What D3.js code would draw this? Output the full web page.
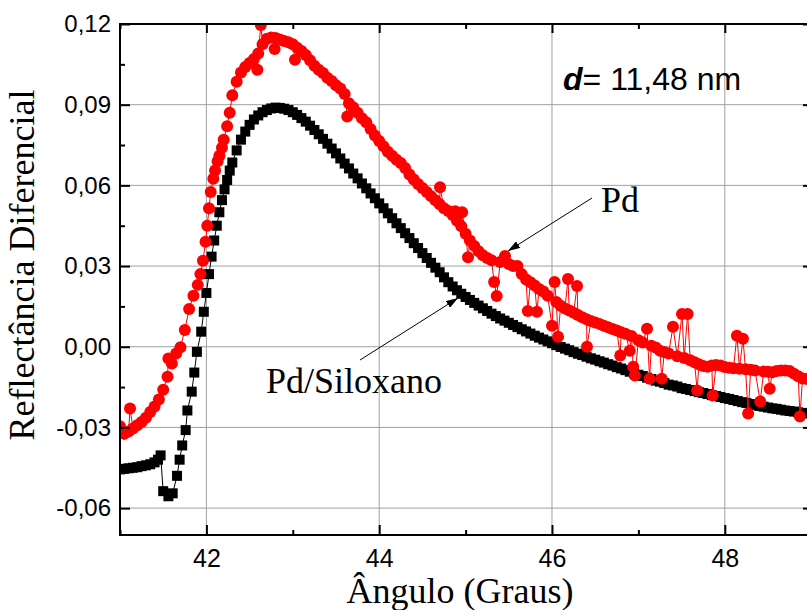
<!DOCTYPE html>
<html>
<head>
<meta charset="utf-8">
<script src="https://cdn.jsdelivr.net/npm/d3@7"></script>
<style>
  body { margin: 0; background: #fff; }
</style>
</head>
<body>
<div id="chart"></div>
<script>
// Pd/Siloxano (quadrados pretos): [ângulo, reflectância]
const pdSiloxano = [
  [41.00,-0.0456],[41.05,-0.0454],[41.10,-0.0452],[41.15,-0.0450],[41.20,-0.0448],[41.25,-0.0444],
  [41.30,-0.0441],[41.35,-0.0437],[41.40,-0.0430],[41.44,-0.0420],[41.47,-0.0404],[41.50,-0.0537],
  [41.56,-0.0556],[41.61,-0.0545],[41.66,-0.0480],[41.69,-0.0420],[41.72,-0.0367],[41.76,-0.0310],
  [41.78,-0.0237],[41.83,-0.0167],[41.86,-0.0096],[41.89,-0.0019],[41.94,0.0056],[41.97,0.0130],
  [42.00,0.0200],[42.03,0.0270],[42.06,0.0335],[42.09,0.0395],[42.12,0.0450],[42.15,0.0500],
  [42.18,0.0545],[42.21,0.0585],[42.24,0.0620],[42.27,0.0655],[42.30,0.0685],[42.35,0.0730],
  [42.40,0.0770],[42.45,0.0800],[42.50,0.0825],[42.55,0.0845],[42.60,0.0860],[42.65,0.0872],
  [42.70,0.0880],[42.75,0.0886],[42.80,0.0889],[42.85,0.0888],[42.90,0.0885],[42.95,0.0880],
  [43.00,0.0872],[43.05,0.0862],[43.10,0.0850],[43.15,0.0837],[43.20,0.0822],[43.25,0.0806],
  [43.30,0.0790],[43.35,0.0773],[43.40,0.0755],[43.45,0.0737],[43.50,0.0719],[43.55,0.0700],
  [43.60,0.0681],[43.65,0.0663],[43.70,0.0644],[43.75,0.0626],[43.80,0.0607],[43.85,0.0589],
  [43.90,0.0570],[43.95,0.0552],[44.00,0.0533],[44.05,0.0515],[44.10,0.0496],[44.15,0.0478],
  [44.20,0.0459],[44.25,0.0441],[44.30,0.0422],[44.35,0.0404],[44.40,0.0385],[44.45,0.0367],
  [44.50,0.0348],[44.55,0.0330],[44.60,0.0312],[44.65,0.0294],[44.70,0.0277],[44.75,0.0258],
  [44.80,0.0240],[44.85,0.0224],[44.90,0.0210],[44.95,0.0197],[45.00,0.0185],[45.05,0.0174],
  [45.10,0.0163],[45.15,0.0153],[45.20,0.0143],[45.25,0.0133],[45.30,0.0123],[45.35,0.0114],
  [45.40,0.0105],[45.45,0.0097],[45.50,0.0089],[45.55,0.0081],[45.60,0.0073],[45.65,0.0065],
  [45.70,0.0057],[45.75,0.0049],[45.80,0.0041],[45.85,0.0034],[45.90,0.0027],[45.95,0.0020],
  [46.00,0.0013],[46.05,0.0006],[46.10,-0.0001],[46.15,-0.0007],[46.20,-0.0013],[46.25,-0.0020],
  [46.30,-0.0026],[46.35,-0.0031],[46.40,-0.0037],[46.45,-0.0043],[46.50,-0.0048],[46.55,-0.0054],
  [46.60,-0.0059],[46.65,-0.0065],[46.70,-0.0070],[46.75,-0.0076],[46.80,-0.0081],[46.85,-0.0087],
  [46.90,-0.0093],[46.95,-0.0098],[47.00,-0.0104],[47.05,-0.0109],[47.10,-0.0115],[47.15,-0.0120],
  [47.20,-0.0126],[47.25,-0.0130],[47.30,-0.0135],[47.35,-0.0141],[47.40,-0.0144],[47.45,-0.0148],
  [47.50,-0.0154],[47.55,-0.0157],[47.60,-0.0161],[47.65,-0.0165],[47.70,-0.0169],[47.75,-0.0172],
  [47.80,-0.0176],[47.85,-0.0180],[47.90,-0.0183],[47.95,-0.0187],[48.00,-0.0191],[48.05,-0.0194],
  [48.10,-0.0198],[48.15,-0.0202],[48.20,-0.0206],[48.25,-0.0209],[48.30,-0.0213],[48.35,-0.0217],
  [48.40,-0.0220],[48.45,-0.0223],[48.50,-0.0226],[48.55,-0.0229],[48.60,-0.0231],[48.65,-0.0234],
  [48.70,-0.0237],[48.75,-0.0239],[48.80,-0.0241],[48.85,-0.0244],[48.90,-0.0246],[48.95,-0.0248]
];

// Pd (círculos vermelhos): [ângulo, reflectância], com os pontos ruidosos
const pd = [
  [41.00,-0.0296],[41.05,-0.0324],[41.10,-0.0315],[41.116,-0.0230],[41.15,-0.0304],[41.20,-0.0292],
  [41.25,-0.0280],[41.30,-0.0264],[41.35,-0.0243],[41.40,-0.0222],[41.45,-0.0196],[41.50,-0.0160],
  [41.55,-0.0112],[41.56,-0.0044],[41.60,-0.0062],[41.65,-0.0025],[41.70,-0.0002],[41.75,0.0062],
  [41.80,0.0140],[41.85,0.0190],[41.90,0.0230],[41.93,0.0270],[41.96,0.0320],[41.99,0.0390],
  [42.01,0.0450],[42.03,0.0515],[42.05,0.0575],[42.08,0.0625],[42.10,0.0655],[42.13,0.0690],
  [42.15,0.0710],[42.18,0.0740],[42.20,0.0770],[42.24,0.0820],[42.27,0.0870],[42.30,0.0935],
  [42.35,0.0985],[42.40,0.1020],[42.45,0.1040],[42.50,0.1055],[42.55,0.1070],[42.59,0.1030],
  [42.60,0.1090],[42.63,0.1196],[42.65,0.1125],[42.70,0.1145],[42.75,0.1150],[42.79,0.1107],
  [42.80,0.1148],[42.85,0.1142],[42.90,0.1137],[42.95,0.1132],[43.00,0.1125],[43.025,0.1067],
  [43.05,0.1112],[43.10,0.1100],[43.15,0.1085],[43.20,0.1065],[43.25,0.1045],[43.30,0.1030],
  [43.35,0.1018],[43.40,0.1000],[43.45,0.0988],[43.50,0.0972],[43.55,0.0960],[43.60,0.0940],
  [43.63,0.0856],[43.65,0.0905],[43.70,0.0890],[43.75,0.0870],[43.80,0.0850],[43.85,0.0835],
  [43.90,0.0810],[43.95,0.0785],[44.00,0.0765],[44.05,0.0745],[44.10,0.0725],[44.15,0.0710],
  [44.20,0.0695],[44.25,0.0683],[44.30,0.0665],[44.35,0.0640],[44.40,0.0622],[44.45,0.0605],
  [44.50,0.0590],[44.55,0.0575],[44.60,0.0560],[44.65,0.0545],[44.70,0.0530],[44.704,0.0593],
  [44.75,0.0515],[44.80,0.0505],[44.85,0.0490],[44.88,0.0504],[44.90,0.0468],[44.95,0.0448],
  [44.96,0.0500],[45.00,0.0420],[45.028,0.0333],[45.05,0.0395],[45.10,0.0375],[45.15,0.0355],
  [45.20,0.0340],[45.25,0.0330],[45.30,0.0322],[45.33,0.0241],[45.36,0.0189],[45.40,0.0315],
  [45.456,0.0337],[45.50,0.0308],[45.55,0.0300],[45.60,0.0300],[45.65,0.0270],[45.70,0.0250],
  [45.72,0.0133],[45.75,0.0240],[45.80,0.0228],[45.826,0.0130],[45.85,0.0215],[45.90,0.0205],
  [45.95,0.0190],[46.00,0.0078],[46.03,0.0241],[46.05,0.0166],[46.07,0.0037],[46.10,0.0152],
  [46.15,0.0142],[46.185,0.0252],[46.20,0.0135],[46.25,0.0126],[46.29,0.0226],[46.30,0.0118],
  [46.35,0.0110],[46.40,0.0102],[46.405,0.0000],[46.45,0.0096],[46.50,0.0090],[46.55,0.0085],
  [46.60,0.0078],[46.65,0.0072],[46.70,0.0066],[46.75,0.0060],[46.79,-0.0033],[46.80,0.0054],
  [46.85,0.0048],[46.90,-0.0015],[46.92,0.0040],[46.94,-0.0074],[46.96,-0.0107],[47.00,0.0024],
  [47.05,0.0016],[47.10,0.0067],[47.13,-0.0119],[47.15,0.0004],[47.20,-0.0003],[47.25,-0.0015],
  [47.27,-0.0119],[47.30,-0.0020],[47.35,-0.0025],[47.40,0.0074],[47.45,-0.0035],[47.505,0.0122],
  [47.53,-0.0042],[47.57,0.0122],[47.60,-0.0050],[47.65,-0.0058],[47.68,-0.0163],[47.70,-0.0065],
  [47.75,-0.0072],[47.80,-0.0074],[47.85,-0.0070],[47.86,-0.0181],[47.90,-0.0068],[47.95,-0.0070],
  [48.00,-0.0075],[48.05,-0.0078],[48.10,-0.0080],[48.14,0.0041],[48.17,-0.0082],[48.21,0.0030],
  [48.24,-0.0084],[48.27,-0.0248],[48.30,-0.0086],[48.35,-0.0088],[48.41,-0.0204],[48.45,-0.0092],
  [48.50,-0.0093],[48.52,-0.0156],[48.55,-0.0095],[48.60,-0.0090],[48.65,-0.0088],[48.70,-0.0088],
  [48.75,-0.0090],[48.80,-0.0100],[48.85,-0.0110],[48.87,-0.0259],[48.90,-0.0118],[48.95,-0.0120]
];

// ticks
const xMajorTicks = [42, 44, 46, 48];
const xMinorTicks = [41, 43, 45, 47];
const yMajorTicks = [-0.06, -0.03, 0, 0.03, 0.06, 0.09, 0.12];
const yMinorTicks = [-0.045, -0.015, 0.015, 0.045, 0.075, 0.105];

const width = 807;
const height = 610;
const plotLeft = 120, plotRight = 808, plotTop = 24, plotBottom = 535;

const x = d3.scaleLinear().domain([41, 48.963]).range([plotLeft, plotRight]);
const y = d3.scaleLinear().domain([-0.07, 0.12]).range([plotBottom, plotTop]);

const fmt = d => (d < 0 ? "-" : "") + Math.abs(d).toFixed(2).replace(".", ",");

const svg = d3.select("#chart").append("svg")
  .attr("width", width)
  .attr("height", height)
  .style("font-family", "'Liberation Sans', Arial, sans-serif");

const defs = svg.append("defs");

// clip para a área do gráfico
defs.append("clipPath").attr("id", "plot-clip")
  .append("rect").attr("x", plotLeft).attr("y", plotTop)
  .attr("width", plotRight - plotLeft).attr("height", plotBottom - plotTop);

// grade
const grid = svg.append("g").attr("stroke", "#a0a0a0").attr("stroke-width", 1);
grid.selectAll(".gx").data(xMajorTicks).enter().append("line")
  .attr("x1", d => x(d)).attr("x2", d => x(d))
  .attr("y1", plotTop).attr("y2", plotBottom);
grid.selectAll(".gy").data(yMajorTicks).enter().append("line")
  .attr("x1", plotLeft).attr("x2", plotRight)
  .attr("y1", d => y(d)).attr("y2", d => y(d));

// séries
const plot = svg.append("g").attr("clip-path", "url(#plot-clip)");
const line = d3.line().x(d => x(d[0])).y(d => y(d[1]));

plot.append("path").datum(pdSiloxano)
  .attr("fill", "none").attr("stroke", "#000").attr("stroke-width", 1)
  .attr("d", line);
const sq = 10;
plot.selectAll(".sq").data(pdSiloxano).enter().append("rect")
  .attr("x", d => x(d[0]) - sq / 2).attr("y", d => y(d[1]) - sq / 2)
  .attr("width", sq).attr("height", sq).attr("fill", "#000");

plot.append("path").datum(pd)
  .attr("fill", "none").attr("stroke", "#ff0000").attr("stroke-width", 1)
  .attr("d", line);
plot.selectAll(".ci").data(pd).enter().append("circle")
  .attr("cx", d => x(d[0])).attr("cy", d => y(d[1]))
  .attr("r", 6).attr("fill", "#ff0000");

// eixos (ticks para dentro)
function styleAxis(g) {
  g.select(".domain").remove();
  g.selectAll(".tick line").attr("stroke", "#000").attr("stroke-width", 2);
}

svg.append("g").attr("transform", `translate(0,${plotBottom})`)
  .call(d3.axisBottom(x).tickValues(xMajorTicks).tickSizeInner(-10).tickSizeOuter(0).tickPadding(14).tickFormat(d3.format("d")))
  .call(styleAxis)
  .selectAll("text").attr("fill", "#000").style("font-size", "25px").style("font-family", "'Liberation Sans', Arial, sans-serif");
svg.append("g").attr("transform", `translate(0,${plotBottom})`)
  .call(d3.axisBottom(x).tickValues(xMinorTicks).tickSizeInner(-5).tickSizeOuter(0).tickFormat(""))
  .call(styleAxis);
svg.append("g").attr("transform", `translate(0,${plotTop})`)
  .call(d3.axisTop(x).tickValues(xMajorTicks).tickSizeInner(-9).tickSizeOuter(0).tickFormat(""))
  .call(styleAxis);
svg.append("g").attr("transform", `translate(0,${plotTop})`)
  .call(d3.axisTop(x).tickValues(xMinorTicks).tickSizeInner(-5).tickSizeOuter(0).tickFormat(""))
  .call(styleAxis);

svg.append("g").attr("transform", `translate(${plotLeft},0)`)
  .call(d3.axisLeft(y).tickValues(yMajorTicks).tickSizeInner(-10).tickSizeOuter(0).tickPadding(9).tickFormat(fmt))
  .call(styleAxis)
  .selectAll("text").attr("fill", "#000").style("font-size", "24px").style("font-family", "'Liberation Sans', Arial, sans-serif");
svg.append("g").attr("transform", `translate(${plotLeft},0)`)
  .call(d3.axisLeft(y).tickValues(yMinorTicks).tickSizeInner(-5).tickSizeOuter(0).tickFormat(""))
  .call(styleAxis);
svg.append("g").attr("transform", `translate(${plotRight},0)`)
  .call(d3.axisRight(y).tickValues(yMajorTicks).tickSizeInner(-5).tickSizeOuter(0).tickFormat(""))
  .call(styleAxis);

// moldura
const frame = svg.append("g").attr("stroke", "#000").attr("stroke-width", 2);
frame.append("line").attr("x1", plotLeft).attr("x2", plotRight).attr("y1", plotBottom).attr("y2", plotBottom);
frame.append("line").attr("x1", plotLeft).attr("x2", plotRight).attr("y1", plotTop).attr("y2", plotTop);
frame.append("line").attr("x1", plotLeft).attr("x2", plotLeft).attr("y1", plotTop - 1).attr("y2", plotBottom + 1);
frame.append("line").attr("x1", plotRight).attr("x2", plotRight).attr("y1", plotTop - 1).attr("y2", plotBottom + 1);

// títulos dos eixos
svg.append("text")
  .attr("x", 460).attr("y", 603)
  .attr("text-anchor", "middle")
  .style("font-family", "'Liberation Serif', 'Times New Roman', serif")
  .style("font-size", "36px")
  .text("Ângulo (Graus)");
svg.append("text")
  .attr("transform", "translate(34,265) rotate(-90)")
  .attr("text-anchor", "middle")
  .style("font-family", "'Liberation Serif', 'Times New Roman', serif")
  .style("font-size", "36px")
  .text("Reflectância Diferencial");

// anotações
const dText = svg.append("text")
  .attr("x", 563).attr("y", 90)
  .style("font-size", "32px");
dText.append("tspan").style("font-weight", "bold").style("font-style", "italic").text("d");
dText.append("tspan").text("= 11,48 nm");

defs.append("marker")
  .attr("id", "arrow")
  .attr("viewBox", "0 0 12 8")
  .attr("refX", 12).attr("refY", 4)
  .attr("markerWidth", 12).attr("markerHeight", 8)
  .attr("markerUnits", "userSpaceOnUse")
  .attr("orient", "auto")
  .append("path").attr("d", "M0,0 L12,4 L0,8 Z").attr("fill", "#000");

svg.append("line")
  .attr("x1", 592).attr("y1", 198).attr("x2", 508).attr("y2", 251)
  .attr("stroke", "#000").attr("stroke-width", 1)
  .attr("marker-end", "url(#arrow)");
svg.append("line")
  .attr("x1", 360).attr("y1", 360).attr("x2", 458).attr("y2", 298)
  .attr("stroke", "#000").attr("stroke-width", 1)
  .attr("marker-end", "url(#arrow)");

svg.append("text")
  .attr("x", 601).attr("y", 212)
  .style("font-family", "'Liberation Serif', 'Times New Roman', serif")
  .style("font-size", "36px")
  .text("Pd");
svg.append("text")
  .attr("x", 266).attr("y", 393)
  .style("font-family", "'Liberation Serif', 'Times New Roman', serif")
  .style("font-size", "36px")
  .text("Pd/Siloxano");
</script>
</body>
</html>
